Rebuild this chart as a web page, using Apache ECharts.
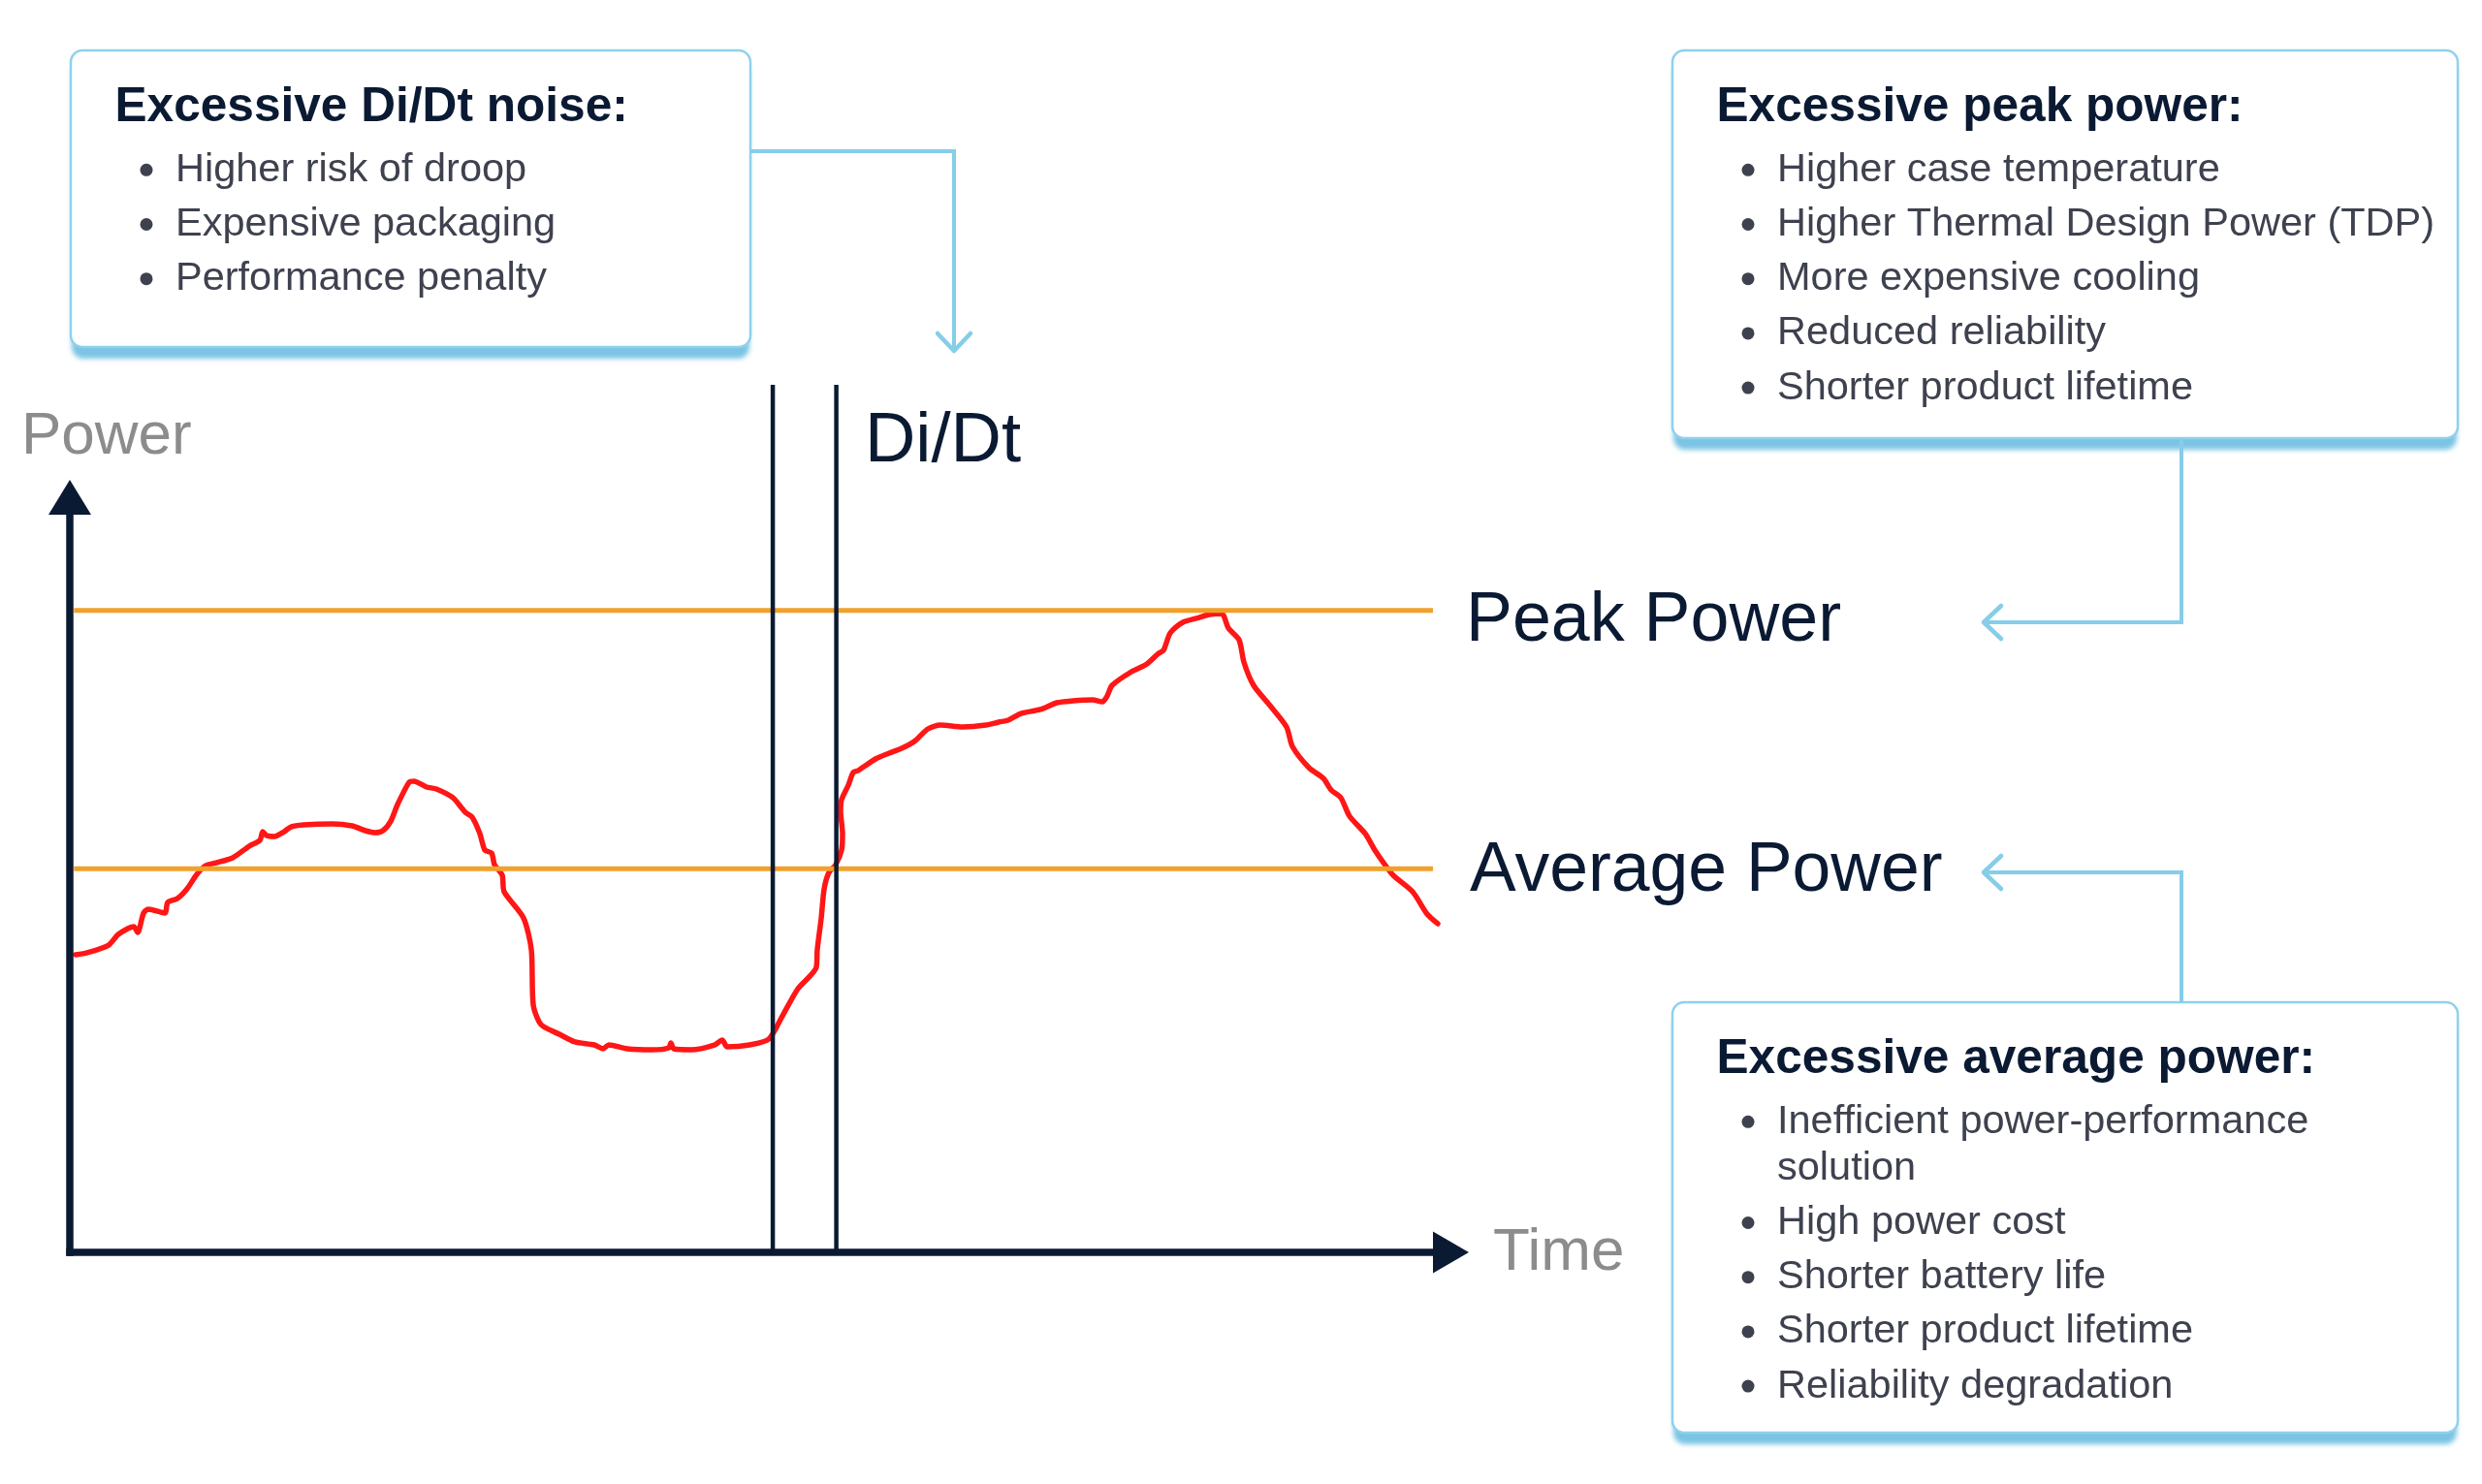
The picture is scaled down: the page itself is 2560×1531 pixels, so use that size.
<!DOCTYPE html>
<html>
<head>
<meta charset="utf-8">
<script src="https://cdn.jsdelivr.net/npm/echarts@6/dist/echarts.min.js"></script>
<style>
html,body{margin:0;padding:0;background:#ffffff;}
#chart{width:2560px;height:1531px;}
</style>
</head>
<body>
<div id="chart"></div>
<script>
// ---- data (time 0-100, power 0-100) ----
const timeValues = [0.42,1.26,2.81,3.51,4.63,4.91,5.34,5.69,6.88,7.09,
  7.79,8.49,9.20,9.83,10.60,11.79,12.99,13.76,13.97,14.25,
  14.81,15.51,16.01,16.92,19.02,20.43,21.41,22.11,22.67,23.24,
  23.73,24.57,24.92,25.83,26.54,27.73,28.64,29.13,29.69,30.05,
  30.54,30.75,31.31,31.45,32.85,33.42,33.56,34.12,35.45,36.57,
  37.98,38.61,39.03,40.37,42.19,43.38,43.52,43.73,45.00,46.68,
  47.24,47.60,49.21,50.61,51.60,52.72,54.05,54.12,54.41,54.62,
  54.97,55.46,55.88,55.95,55.81,55.88,56.37,56.72,57.07,58.34,
  59.32,60.23,61.14,62.13,63.04,64.65,66.34,67.25,67.95,68.87,
  70.27,71.46,72.66,74.06,74.76,75.11,75.47,76.87,77.99,78.83,
  79.19,79.68,80.59,81.78,82.49,83.40,83.89,84.66,85.01,85.71,
  86.91,88.10,88.52,89.72,90.77,91.33,92.03,92.66,93.79,94.49,
  95.12,95.82,97.23,98.28,99.05];
const powerValues = [39.41,39.67,40.69,42.11,43.13,42.36,44.93,45.44,44.93,46.34,
  46.86,48.14,50.06,51.22,51.60,52.25,53.79,54.56,55.71,55.20,
  55.07,55.71,56.35,56.61,56.74,56.48,55.84,55.58,55.84,57.12,
  59.31,62.26,62.39,61.62,61.36,60.21,58.28,57.64,55.46,53.27,
  52.89,51.35,49.94,47.75,44.29,40.05,32.73,30.17,28.88,27.86,
  27.47,26.96,27.47,26.96,26.83,27.09,27.73,26.96,26.83,27.47,
  28.11,27.21,27.47,28.24,31.32,34.92,37.74,40.05,44.29,48.14,
  50.32,51.35,53.27,55.46,58.41,59.95,61.87,63.54,63.80,65.34,
  66.11,66.75,67.65,69.32,69.83,69.58,69.83,70.22,70.48,71.37,
  71.89,72.79,73.04,73.17,72.91,73.68,75.10,76.89,77.92,79.33,
  79.72,82.03,83.44,84.08,84.47,84.60,82.67,81.13,78.18,75.10,
  72.40,69.58,67.01,64.19,62.77,61.23,60.21,57.77,55.46,53.27,
  51.60,49.94,47.75,44.80,43.52];
const levelValues = [85, 50.8];            // peak power, average power
const levelLabels = ['Peak Power', 'Average Power'];
const levelSpan = [0.3, 98.7];             // time extent of the level lines
const didtWindow = [50.9, 55.5];           // the two Di/Dt markers
const didtLabel = 'Di/Dt';
const axisNames = ['Time', 'Power'];
const boxTitles = ['Excessive Di/Dt noise:', 'Excessive peak power:', 'Excessive average power:'];
const didtItems = [['Higher risk of droop'], ['Expensive packaging'], ['Performance penalty']];
const peakItems = [['Higher case temperature'], ['Higher Thermal Design Power (TDP)'], ['More expensive cooling'], ['Reduced reliability'], ['Shorter product lifetime']];
const averageItems = [['Inefficient power-performance', 'solution'], ['High power cost'], ['Shorter battery life'], ['Shorter product lifetime'], ['Reliability degradation']];

// ---- styling ----
const NAVY = '#0B1A33', BLUE = '#86CDE9', TEXT = '#3E414E', GRAY = '#8C8C8C';
const RED = '#FF1616', ORANGE = '#F0A12C';
const FONT = '"Liberation Sans", Arial, Helvetica, sans-serif';

function box(x, y, w, h, title, items) {
  const els = [];
  // shadow band (drawn behind, fill only)
  els.push({ type: 'rect', z: 0, shape: { x: x + 1, y: y, width: w - 2, height: h, r: 12 },
    style: { fill: '#7FCBE8', shadowColor: 'rgba(110,190,225,0.9)', shadowBlur: 5, shadowOffsetY: 12 } });
  els.push({ type: 'rect', z: 1, shape: { x: x, y: y, width: w, height: h, r: 12 },
    style: { fill: '#ffffff', stroke: '#8FD1EC', lineWidth: 2.5 } });
  els.push({ type: 'text', z: 2, x: x + 45.5, y: y + 59,
    style: { text: title, font: 'bold 49.6px ' + FONT, fill: NAVY, verticalAlign: 'middle' } });
  let ly = y + 123.3;
  items.forEach(function (lines) {
    els.push({ type: 'circle', z: 2, shape: { cx: x + 78, cy: ly, r: 6.5 }, style: { fill: TEXT } });
    lines.forEach(function (ln, k) {
      if (k > 0) ly += 48;
      els.push({ type: 'text', z: 2, x: x + 108, y: ly,
        style: { text: ln, font: '41.5px ' + FONT, fill: TEXT, verticalAlign: 'middle' } });
    });
    ly += 56.2;
  });
  return els;
}
function connector(points, tip, dir) {
  const a = 17, d = 18;
  let chev;
  if (dir === 'down') chev = [[tip[0] - a, tip[1] - d], tip, [tip[0] + a, tip[1] - d]];
  else chev = [[tip[0] + d, tip[1] - a], tip, [tip[0] + d, tip[1] + a]];
  return [
    { type: 'polyline', z: 3, shape: { points: points }, style: { stroke: BLUE, lineWidth: 4, fill: null } },
    { type: 'polyline', z: 3, shape: { points: chev }, style: { stroke: BLUE, lineWidth: 4.5, fill: null, lineCap: 'round', lineJoin: 'round' } }
  ];
}
function label(text, x, y, size, color) {
  return { type: 'text', z: 5, x: x, y: y, style: { text: text, font: size + 'px ' + FONT, fill: color, verticalAlign: 'middle' } };
}

const graphicEls = [].concat(
  box(73, 52, 701, 306, boxTitles[0], didtItems),
  box(1725, 52, 810, 400, boxTitles[1], peakItems),
  box(1725, 1034, 810, 444, boxTitles[2], averageItems),
  connector([[774, 156], [984, 156], [984, 361]], [984, 362], 'down'),
  connector([[2250, 452], [2250, 642], [2047, 642]], [2046, 642], 'left'),
  connector([[2250, 1034], [2250, 900], [2047, 900]], [2046, 900], 'left'),
  [
    label(axisNames[1], 22, 451, 62, GRAY),
    label(axisNames[0], 1540, 1293, 62, GRAY),
    label(didtLabel, 892, 456, 72.5, NAVY),
    label(levelLabels[0], 1512, 641, 71.8, NAVY),
    label(levelLabels[1], 1516, 899, 71.5, NAVY)
  ]
);

const chart = echarts.init(document.getElementById('chart'), null, { renderer: 'canvas' });
const hidden = { show: false };
const axisLineStyle = { color: NAVY, width: 7.5, cap: 'square' };

chart.setOption({
  animation: false,
  backgroundColor: '#ffffff',
  grid: [
    { left: 72, right: 1063.5, top: 513, bottom: 239 },
    { left: 72, right: 1063.5, top: 397, bottom: 239 }
  ],
  xAxis: [
    { type: 'value', gridIndex: 0, min: 0, max: 100, z: 8,
      axisLine: { show: true, symbol: ['none', 'triangle'], symbolSize: [43, 37], lineStyle: axisLineStyle },
      axisTick: hidden, axisLabel: hidden, splitLine: hidden },
    { type: 'value', gridIndex: 1, min: 0, max: 100, show: false }
  ],
  yAxis: [
    { type: 'value', gridIndex: 0, min: 0, max: 100, z: 8,
      axisLine: { show: true, symbol: ['none', 'triangle'], symbolSize: [44, 36], lineStyle: axisLineStyle },
      axisTick: hidden, axisLabel: hidden, splitLine: hidden },
    { type: 'value', gridIndex: 1, min: 0, max: 1, show: false }
  ],
  series: [
    { type: 'line', xAxisIndex: 0, yAxisIndex: 0, z: 2, silent: true,
      data: timeValues.map(function (t, i) { return [t, powerValues[i]]; }),
      smooth: 0.25, symbol: 'none', showSymbol: false,
      lineStyle: { color: RED, width: 5.5, cap: 'round', join: 'round' } }
  ].concat(levelValues.map(function (v) {
    return { type: 'line', xAxisIndex: 0, yAxisIndex: 0, z: 3, silent: true,
      data: [[levelSpan[0], v], [levelSpan[1], v]], symbol: 'none',
      lineStyle: { color: ORANGE, width: 5 } };
  })).concat(didtWindow.map(function (t) {
    return { type: 'line', xAxisIndex: 1, yAxisIndex: 1, z: 4, silent: true,
      data: [[t, 0], [t, 1]], symbol: 'none',
      lineStyle: { color: NAVY, width: 4.5 } };
  })),
  graphic: { elements: graphicEls }
});
</script>
</body>
</html>
